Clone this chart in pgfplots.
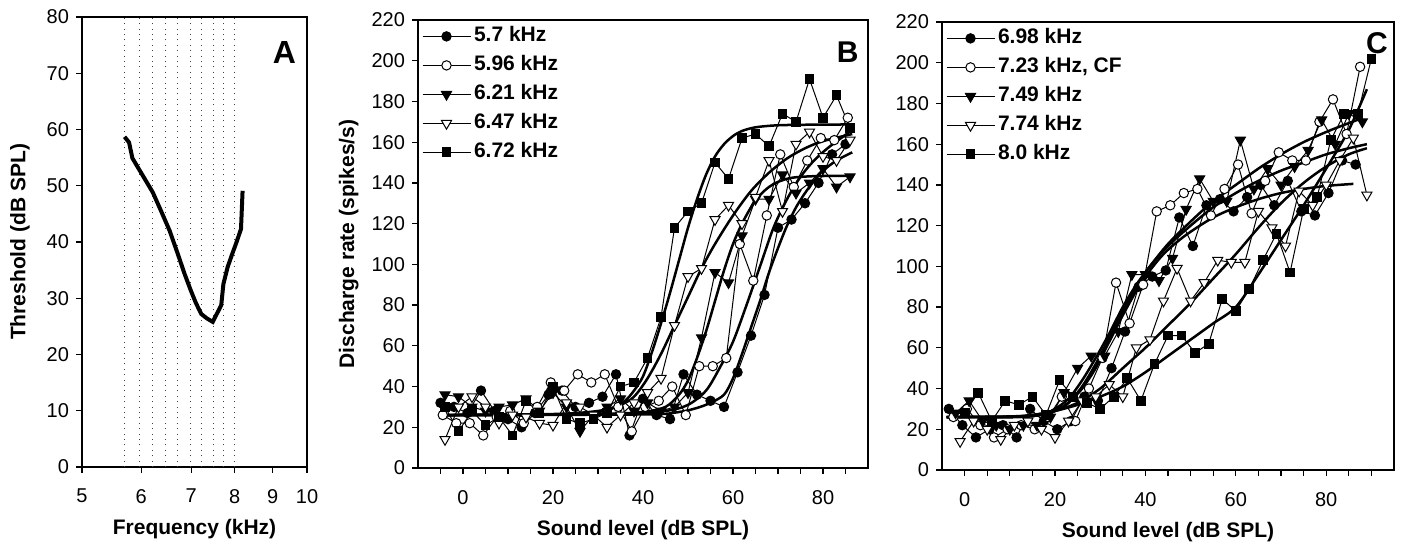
\documentclass[border=0pt]{standalone}
\usepackage{fontspec}
\setmainfont{Liberation Sans}
\usepackage{pgfplots}
\pgfplotsset{compat=1.18}

\pgfplotsset{
  panel/.style={
    scale only axis,
    axis line style={line width=0.6pt},
    tick style={black, line width=0.6pt},
    tick align=outside, xtick pos=bottom, ytick pos=left,
    major tick length=3pt, minor tick length=3pt,
    every tick label/.append style={font=\fontsize{10}{12}\selectfont},
    /pgf/number format/assume math mode=true,
    xticklabel shift=4.5pt,
    every axis label/.append style={font=\bfseries\fontsize{10.5}{12}\selectfont},
    clip=false,
    legend cell align=left,
    legend image code/.code={\draw[mark repeat=2,mark phase=2] plot coordinates {(0pt,0pt) (12pt,0pt) (24pt,0pt)};},
    legend style={draw=none, fill=none, at={(0,1)}, anchor=north west,
      xshift=1.8pt, yshift=-1.5pt, inner sep=0pt,
      font=\bfseries\fontsize{10.5}{12}\selectfont, row sep=1.5pt,
      nodes={inner sep=1.5pt, text height=7.8pt, text depth=2.2pt}},
  },
  dat/.style={black, line width=0.5pt, mark options={solid, line width=0.5pt}},
  fc/.style={dat, mark=*, mark size=2.35pt, mark options={fill=black}},
  oc/.style={dat, mark=*, mark size=2.35pt, mark options={fill=white}},
  ft/.style={dat, mark=triangle*, mark size=2.9pt, mark options={rotate=180, fill=black}},
  ot/.style={dat, mark=triangle*, mark size=2.9pt, mark options={rotate=180, fill=white}},
  fs/.style={dat, mark=square*, mark size=2.2pt, mark options={fill=black}},
  fit/.style={black, line width=1.25pt, no marks, forget plot, smooth},
}

\begin{document}
\begin{tikzpicture}
\useasboundingbox (0,0) rectangle (701pt,272pt);

% ---------------- Panel A ----------------
\begin{axis}[panel,
  at={(41pt,38.5pt)}, anchor=south west,
  width=112.5pt, height=225pt,
  xmode=log, xmin=5, xmax=10,
  xtick={5,6,7,8,9,10}, xticklabels={5,6,7,8,9,10}, minor xtick={},
  ymin=0, ymax=80, ytick={0,10,...,80},
  xlabel={Frequency (kHz)}, ylabel={Threshold (dB SPL)},
  x label style={at={(axis description cs:0.5,-0.137)}, anchor=center},
  y label style={at={(axis description cs:-0.276,0.5)}, anchor=center},
]
\addplot[ycomb, black!75, line width=0.5pt, dash pattern=on 0.5pt off 2.2pt, no marks]
  coordinates {(5.7,80) (5.96,80) (6.21,80) (6.47,80) (6.72,80) (6.98,80) (7.23,80) (7.49,80) (7.74,80) (8.0,80)};
\addplot[black, line width=2pt, no marks] coordinates {
  (5.70,58.7) (5.78,57.7) (5.84,54.9) (6.03,51.8) (6.22,48.8) (6.38,45.5)
  (6.55,42.0) (6.72,37.8) (6.86,34.3) (7.00,31.2) (7.10,29.2) (7.22,27.2)
  (7.35,26.4) (7.48,25.8) (7.60,27.6) (7.68,28.8) (7.73,32.5) (7.83,35.5)
  (7.95,38.0) (8.04,39.8) (8.16,42.3) (8.20,49.1)};
\node[font=\bfseries\fontsize{16}{16}\selectfont] at (rel axis cs:0.9,0.922) {A};
\end{axis}

% ---------------- Panel B ----------------
\begin{axis}[panel,
  at={(209pt,38pt)}, anchor=south west,
  width=225pt, height=224pt,
  xmin=-10, xmax=90, xtick={0,20,...,80},
  minor xtick={-5,5,10,15,25,30,35,45,50,55,65,70,75,85},
  ymin=0, ymax=220, ytick={0,20,...,220},
  xlabel={Sound level (dB SPL)}, ylabel={Discharge rate (spikes/s)},
  x label style={at={(axis description cs:0.5,-0.138)}, anchor=center},
  y label style={at={(axis description cs:-0.154,0.5)}, anchor=center},
]
\addplot[fc] coordinates {
 (-5,32) (-2,30) (1,27) (4,38) (7,28) (10,24) (13,20) (16,27) (19,36) (22,38)
 (25,30) (28,32) (31,35) (34,46) (37,16) (40,34) (43,26) (46,24) (49,46) (52,36)
 (55,33) (58,30) (61,47) (64,65) (67,85) (70,118) (73,122) (76,130) (79,140) (82,154) (85,159)};
\addlegendentry{5.7 kHz}
\addplot[oc] coordinates {
 (-4.5,26) (-1.5,22) (1.5,22) (4.5,16) (7.5,25) (10.5,28) (13.5,22) (16.5,30) (19.5,42) (22.5,38)
 (25.5,46) (28.5,42) (31.5,46) (34.5,30) (37.5,18) (40.5,30) (43.5,33) (46.5,40) (49.5,26) (52.5,50)
 (55.5,50) (58.5,54) (61.5,110) (64.5,92) (67.5,124) (70.5,154) (73.5,138) (76.5,151) (79.5,162) (82.5,161) (85.5,172)};
\addlegendentry{5.96 kHz}
\addplot[ft] coordinates {
 (-4,36) (-1,35) (2,30) (5,28) (8,30) (11,31) (14,34) (17,28) (20,37) (23,30)
 (26,18) (29,26) (32,30) (35,34) (38,28) (41,32) (44,28) (47,30) (50,37) (53,64)
 (56,96) (59,91) (62,114) (65,132) (68,132) (71,144) (74,135) (77,140) (80,147) (83,138) (86,143)};
\addlegendentry{6.21 kHz}
\addplot[ot] coordinates {
 (-4,14) (-1,30) (2,35) (5,30) (8,22) (11,26) (14,25) (17,22) (20,21) (23,32)
 (26,30) (29,26) (32,20) (35,26) (38,32) (41,37) (44,44) (47,70) (50,94) (53,98)
 (56,122) (59,129) (62,120) (65,133) (68,151) (71,126) (74,159) (77,165) (80,153) (83,151) (86,161)};
\addlegendentry{6.47 kHz}
\addplot[fs] coordinates {
 (-4,30) (-1,18) (2,28) (5,21) (8,25) (11,16) (14,33) (17,27) (20,40) (23,24)
 (26,22) (29,24) (32,27) (35,40) (38,42) (41,54) (44,74) (47,118) (50,126) (53,130)
 (56,150) (59,142) (62,162) (65,164) (68,158) (71,174) (74,170) (77,191) (80,172) (83,183) (86,167)};
\addlegendentry{6.72 kHz}
% fitted curves
\addplot[fit] coordinates {(-4,26) (10,26) (20,26.2) (25,26.5) (30,27.5) (33,29) (36,33) (38,38) (40,45) (42,57) (44,71) (46,86) (48,102) (50,118) (52,132) (54,144) (56,153) (58,159) (60,163) (62,165.5) (65,167.3) (70,168.3) (78,168.6) (86.5,168.7)};
\addplot[fit] coordinates {(-4,26) (20,26.5) (30,28) (35,31) (38,35) (41,44) (44,56) (47,70) (50,84) (53,98) (56,110) (60,124) (64,136) (68,145) (72,152) (76,157) (80,160.5) (86.5,164)};
\addplot[fit] coordinates {(-4,26) (30,26.5) (40,27.5) (45,30) (48,36) (50,43) (52,54) (54,67) (56,82) (58,97) (60,110) (62,120) (64,128) (66,134) (68,138) (70,140.5) (73,142.5) (78,143.3) (86.5,143.5)};
\addplot[fit] coordinates {(-4,26) (35,26.5) (45,28) (50,31) (54,38) (57,49) (60,62) (63,80) (66,99) (69,118) (72,132) (75,143) (78,151) (81,157) (84,162) (86.5,166)};
\addplot[fit] coordinates {(-4,26) (40,26.3) (48,27.5) (52,29.5) (55,32) (58,36) (60,44) (62,56) (64,69) (66,82) (68,96) (70,108) (72,119) (74,128) (76,135) (78,141) (80,146) (83,151) (86.5,155)};
\node[font=\bfseries\fontsize{15}{15}\selectfont] at (rel axis cs:0.955,0.929) {B};
\end{axis}

% ---------------- Panel C ----------------
\begin{axis}[panel,
  at={(471pt,37pt)}, anchor=south west,
  width=226pt, height=224pt,
  xmin=-5, xmax=95, xtick={0,20,...,80},
  minor xtick={5,10,15,25,30,35,45,50,55,65,70,75,85,90},
  ymin=0, ymax=220, ytick={0,20,...,220},
  xlabel={Sound level (dB SPL)},
  x label style={at={(axis description cs:0.5,-0.138)}, anchor=center},
]
\addplot[fc] coordinates {
 (-3.5,30) (-0.5,22) (2.5,16) (5.5,20) (8.5,22) (11.5,16) (14.5,30) (17.5,24) (20.5,20) (23.5,24)
 (26.5,36) (29.5,34) (32.5,50) (35.5,68) (38.5,90) (41.5,95) (44.5,98) (47.5,124) (50.5,110) (53.5,130)
 (56.5,133) (59.5,127) (62.5,134) (65.5,140) (68.5,130) (71.5,142) (74.5,127) (77.5,125) (80.5,136) (83.5,152) (86.5,150)};
\addlegendentry{6.98 kHz}
\addplot[oc] coordinates {
 (-2.5,26) (0.5,30) (3.5,22) (6.5,16) (9.5,20) (12.5,22) (15.5,20) (18.5,26) (21.5,36) (24.5,24)
 (27.5,40) (30.5,55) (33.5,92) (36.5,72) (39.5,91) (42.5,127) (45.5,130) (48.5,136) (51.5,138) (54.5,125)
 (57.5,138) (60.5,150) (63.5,126) (66.5,142) (69.5,156) (72.5,152) (75.5,152) (78.5,171) (81.5,182) (84.5,165) (87.5,198)};
\addlegendentry{7.23 kHz, CF}
\addplot[ft] coordinates {
 (-2,28) (1,34) (4,24) (7,22) (10,20) (13,22) (16,22) (19,26) (22,38) (25,50)
 (28,56) (31,56) (34,68) (37,96) (40,96) (43,93) (46,104) (49,128) (52,143) (55,132)
 (58,132) (61,162) (64,138) (67,148) (70,140) (73,149) (76,157) (79,172) (82,160) (85,175) (88,171)};
\addlegendentry{7.49 kHz}
\addplot[ot] coordinates {
 (-1,14) (2,24) (5,20) (8,15) (11,22) (14,24) (17,20) (20,16) (23,24) (26,34)
 (29,36) (32,42) (35,36) (38,60) (41,64) (44,83) (47,99) (50,83) (53,92) (56,103)
 (59,102) (62,102) (65,127) (68,119) (71,110) (74,137) (77,130) (80,140) (83,152) (86,163) (89,135)};
\addlegendentry{7.74 kHz}
\addplot[fs] coordinates {
 (0,28) (3,38) (6,24) (9,34) (12,32) (15,36) (18,27) (21,44) (24,36) (27,33)
 (30,30) (33,36) (36,45) (39,34) (42,52) (45,66) (48,66) (51,57.5) (54,62) (57,84)
 (60,78) (63,89) (66,103) (69,116) (72,97) (75,128) (78,134) (81,162) (84,175) (87,175) (90,202)};
\addlegendentry{8.0 kHz}
% fitted curves
\addplot[fit] coordinates {(-4,26) (10,26) (15,26.5) (18,27.5) (20,29) (23,33) (26,40) (29,50) (32,63) (35,76) (38,88) (41,98) (44,106) (47,112) (50,117) (55,124) (60,129) (65,133) (70,136) (75,138) (80,139.5) (86,140.5)};
\addplot[fit] coordinates {(-4,26) (10,26) (15,26.5) (18,27.5) (20,29) (23,33) (26,41) (29,52) (32,65) (35,78) (38,90) (41,100) (45,110) (50,120) (55,129) (60,136) (65,142) (70,147) (75,151) (80,155) (85,158) (89,160)};
\addplot[fit] coordinates {(-4,26) (10,26) (15,26.5) (18,28) (20,30) (23,35) (26,44) (29,55) (32,67) (35,80) (38,91) (41,100) (45,111) (50,122) (55,132) (60,140) (65,148) (70,155) (75,161) (80,166) (84,169.5) (87,172)};
\addplot[fit] coordinates {(-4,26) (10,26.2) (15,27) (20,29) (25,33) (30,40) (35,50) (38,56) (40,60) (45,71) (50,82) (55,94) (60,106) (65,119) (70,131) (75,141) (80,149) (85,155) (89,158)};
\addplot[fit] coordinates {(-4,26) (10,26.3) (15,27) (20,29) (25,32) (30,36) (35,41) (40,48) (45,56) (50,64) (55,72) (60,80) (65,96) (70,113) (75,130) (80,148) (85,167) (89,187)};
\node[font=\bfseries\fontsize{15}{15}\selectfont] at (rel axis cs:0.962,0.952) {C};
\end{axis}
\end{tikzpicture}
\end{document}
